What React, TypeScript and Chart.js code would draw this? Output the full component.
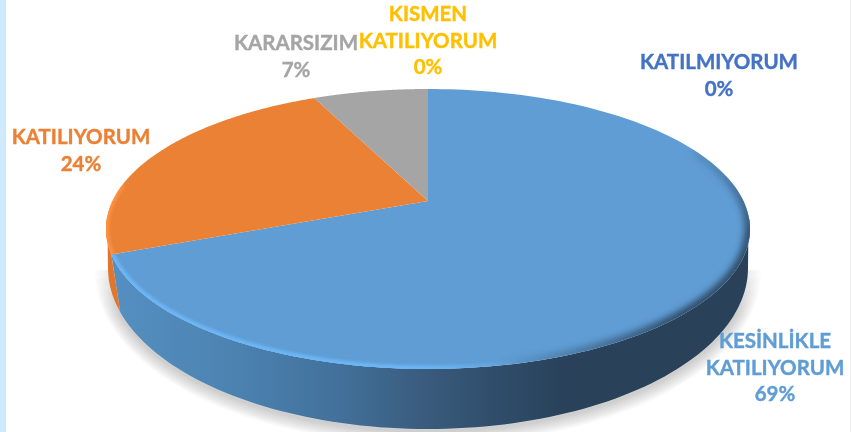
import React, { useEffect, useRef } from "react";
import { Chart, registerables } from "chart.js";

Chart.register(...registerables);

const categories: string[][] = [
  ["KESİNLİKLE", "KATILIYORUM"],
  ["KATILIYORUM"],
  ["KARARSIZIM"],
  ["KISMEN", "KATILIYORUM"],
  ["KATILMIYORUM"],
];
const values = [69, 24, 7, 0, 0];
const colors = ["#5f9dd4", "#eb8135", "#a5a5a5", "#ffc000", "#4472c4"];

// layout of the labels: block centre x, first line baseline y
const labelAnchors = [
  [775, 348],
  [81, 144],
  [296, 50],
  [428, 21],
  [719, 69],
];
const LINE_H = 26.5;

// Perspective projection of the pie's unit disc to the screen
type Proj = { cx: number; cy: number; rx: number; ry: number; c: number };
const TOP: Proj = { cx: 428, cy: 229, rx: 322, ry: 140, c: -0.2 };
const BOTTOM: Proj = { cx: 428, cy: 268, rx: 320, ry: 161, c: -0.105 };

function project(p: Proj, a: number): [number, number] {
  const X = Math.cos(a);
  const Y = Math.sin(a);
  const d = 1 + p.c * Y;
  return [
    p.cx + (p.rx * X * Math.sqrt(1 - p.c * p.c)) / d,
    p.cy + (p.ry * (Y + p.c)) / d,
  ];
}
function centre(p: Proj): [number, number] {
  return [p.cx, p.cy + p.ry * p.c];
}
function unitY(p: Proj, a: number) {
  const Y = Math.sin(a);
  return (Y + p.c) / (1 + p.c * Y);
}
function sample(s: number, e: number, n = 160) {
  const out: number[] = [];
  for (let i = 0; i <= n; i++) out.push(s + ((e - s) * i) / n);
  return out;
}
function tracePath(ctx: any, as: number[]) {
  ctx.beginPath();
  as.forEach((a, k) => {
    const [x, y] = project(TOP, a);
    k ? ctx.lineTo(x, y) : ctx.moveTo(x, y);
  });
}
function traceSlice(ctx: any, arc: any) {
  const [cx, cy] = centre(TOP);
  ctx.beginPath();
  ctx.moveTo(cx, cy);
  sample(arc.startAngle, arc.endAngle).forEach((a) => {
    const [x, y] = project(TOP, a);
    ctx.lineTo(x, y);
  });
  ctx.closePath();
}

const pie3d = {
  id: "pie3d",
  beforeDraw(chart: any) {
    const { ctx, width, height } = chart;
    ctx.save();
    ctx.fillStyle = "#ffffff";
    ctx.fillRect(0, 0, width, height);
    ctx.restore();
  },
  beforeDatasetsDraw(chart: any) {
    const { ctx, width, height } = chart;
    const arcs: any[] = chart.getDatasetMeta(0).data;

    // soft shadow under the disc, built up from widening translucent rings
    ctx.save();
    const fade = ctx.createLinearGradient(0, 250, 0, 315);
    fade.addColorStop(0, "rgba(0,0,0,0)");
    fade.addColorStop(1, "rgba(0,0,0,0.022)");
    ctx.strokeStyle = fade;
    for (let w = 3; w <= 27; w += 3) {
      ctx.lineWidth = w;
      ctx.beginPath();
      ctx.ellipse(BOTTOM.cx, BOTTOM.cy + 2, BOTTOM.rx, BOTTOM.ry, 0, 0, Math.PI);
      ctx.stroke();
    }
    ctx.restore();

    // page edge strips
    ctx.save();
    ctx.fillStyle = "#cfeafc";
    ctx.fillRect(0, 0, 5, height);
    ctx.fillStyle = "#e2e2e2";
    ctx.fillRect(5, 0, 1, height);
    ctx.fillStyle = "#eeeeee";
    ctx.fillRect(width - 1, 0, 1, height);
    ctx.restore();

    // walls
    arcs.forEach((arc, i) => {
      if (arc.circumference <= 0) return;
      const as = sample(arc.startAngle, arc.endAngle).filter((a) => unitY(BOTTOM, a) >= 0);
      if (!as.length) return;
      ctx.beginPath();
      as.forEach((a, k) => {
        const [x, y] = project(TOP, a);
        k ? ctx.lineTo(x, y) : ctx.moveTo(x, y);
      });
      [...as].reverse().forEach((a) => {
        const [x, y] = project(BOTTOM, a);
        ctx.lineTo(x, y);
      });
      ctx.closePath();
      if (i === 0) {
        const g = ctx.createLinearGradient(110, 0, 750, 0);
        g.addColorStop(0, "#5590c2");
        g.addColorStop(0.2, "#4b82b0");
        g.addColorStop(0.36, "#42709a");
        g.addColorStop(0.5, "#395a7b");
        g.addColorStop(0.62, "#2e4b68");
        g.addColorStop(0.72, "#294159");
        g.addColorStop(1, "#294159");
        ctx.fillStyle = g;
      } else if (i === 1) {
        ctx.fillStyle = "#e0762e";
      } else {
        ctx.fillStyle = arc.options.backgroundColor;
      }
      ctx.fill();
    });

    // top surfaces
    arcs.forEach((arc) => {
      if (arc.circumference <= 0) return;
      traceSlice(ctx, arc);
      ctx.fillStyle = arc.options.backgroundColor;
      ctx.fill();
    });

    // bevel along the rim of the disc
    const blue = arcs[0];
    const orange = arcs[1];

    ctx.save();
    traceSlice(ctx, blue);
    ctx.clip();

    ctx.save();
    ctx.filter = "blur(3px)";
    ctx.lineWidth = 11;
    tracePath(ctx, sample(-0.42, 0.3));
    const darkUp = ctx.createLinearGradient(0, 150, 0, 240);
    darkUp.addColorStop(0, "rgba(44,69,96,0.1)");
    darkUp.addColorStop(1, "rgba(44,69,96,0.9)");
    ctx.strokeStyle = darkUp;
    ctx.stroke();
    ctx.restore();

    ctx.save();
    ctx.filter = "blur(3px)";
    ctx.lineWidth = 11;
    tracePath(ctx, sample(0.29, 1.5));
    const darkLow = ctx.createLinearGradient(500, 0, 680, 0);
    darkLow.addColorStop(0, "rgba(44,69,96,0)");
    darkLow.addColorStop(1, "rgba(44,69,96,0.9)");
    ctx.strokeStyle = darkLow;
    ctx.stroke();
    ctx.restore();

    ctx.save();
    ctx.filter = "blur(1.5px)";
    ctx.lineWidth = 7;
    tracePath(ctx, sample(1.2, blue.endAngle + 0.02));
    const light = ctx.createLinearGradient(430, 0, 520, 0);
    light.addColorStop(0, "rgba(108,182,247,1)");
    light.addColorStop(1, "rgba(108,182,247,0)");
    ctx.strokeStyle = light;
    ctx.stroke();
    ctx.restore();
    ctx.restore();

    ctx.save();
    traceSlice(ctx, orange);
    ctx.clip();
    ctx.filter = "blur(1.5px)";
    ctx.lineWidth = 6;
    tracePath(ctx, sample(orange.startAngle - 0.02, orange.startAngle + 0.5));
    ctx.strokeStyle = "#ff9140";
    ctx.stroke();
    ctx.restore();

    // data labels
    const total = values.reduce((a, b) => a + b, 0);
    ctx.save();
    ctx.font = 'bold 20.5px Lato, "Open Sans", sans-serif';
    ctx.textAlign = "center";
    ctx.textBaseline = "alphabetic";
    ctx.lineWidth = 0.4;
    categories.forEach((lines, i) => {
      const [x, y0] = labelAnchors[i];
      ctx.fillStyle = colors[i];
      ctx.strokeStyle = colors[i];
      [...lines, `${Math.round((values[i] / total) * 100)}%`].forEach((t, k) => {
        ctx.fillText(t, x, y0 + k * LINE_H);
        ctx.strokeText(t, x, y0 + k * LINE_H);
      });
    });
    ctx.restore();
    return false;
  },
};

export default function App() {
  const ref = useRef<HTMLCanvasElement | null>(null);
  useEffect(() => {
    if (!ref.current) return;
    const chart = new Chart(ref.current, {
      type: "pie",
      data: {
        labels: categories.map((c) => c.join(" ")),
        datasets: [{ data: values, backgroundColor: colors, borderWidth: 0 }],
      },
      options: {
        animation: false,
        responsive: false,
        plugins: { legend: { display: false }, tooltip: { enabled: false } },
      },
      plugins: [pie3d as any],
    });
    return () => chart.destroy();
  }, []);
  return (
    <div style={{ position: "fixed", left: 0, top: 0, width: 851, height: 432 }}>
      <canvas ref={ref} width={851} height={432} style={{ display: "block" }} />
    </div>
  );
}
